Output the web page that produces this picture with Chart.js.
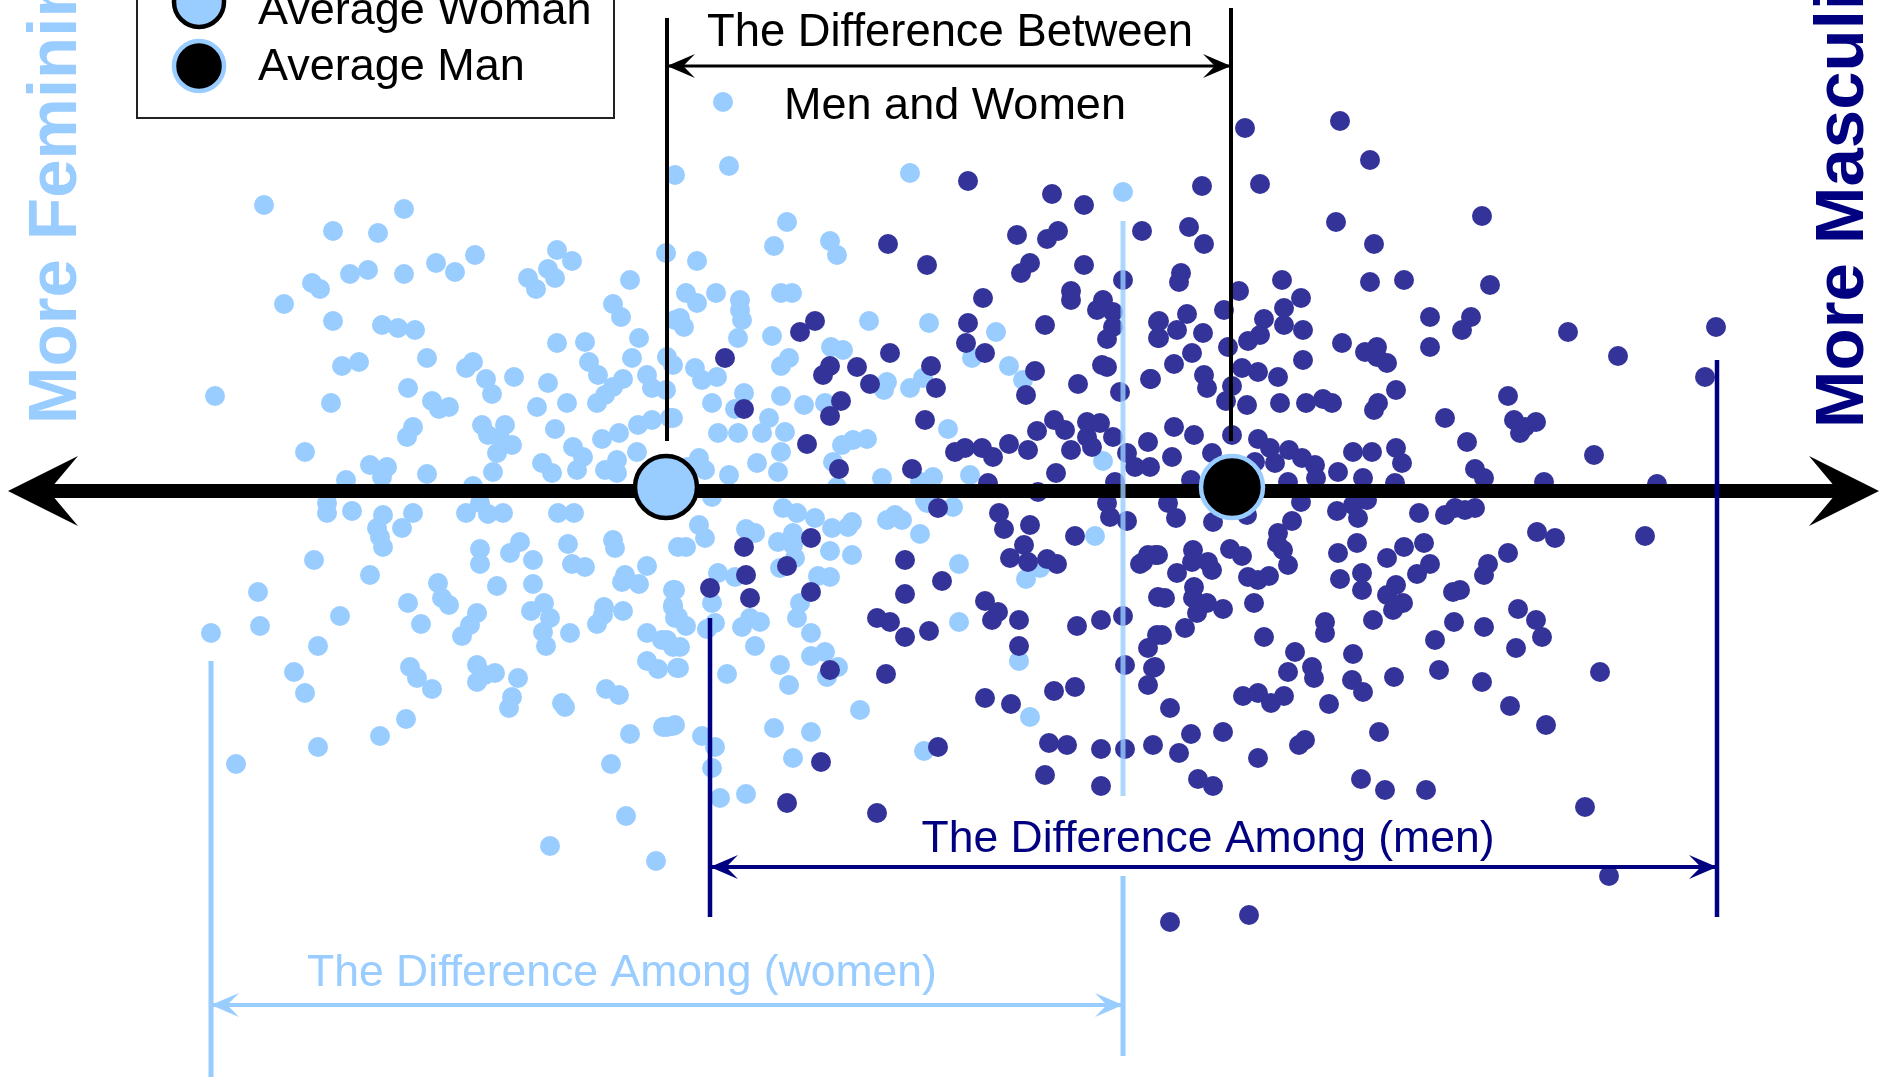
<!DOCTYPE html>
<html>
<head>
<meta charset="utf-8">
<title>The Difference Between Men and Women</title>
<script src="https://cdn.jsdelivr.net/npm/chart.js@4/dist/chart.umd.min.js"></script>
<style>
html, body { margin: 0; padding: 0; background: #fff; overflow: hidden; }
canvas { display: block; }
</style>
</head>
<body>
<canvas id="spread" width="1883" height="1081"></canvas>
<script>
// values, on a 0-1883 / 0-1081 plane
var women = [
[264,205],[404,209],[333,231],[378,233],[475,255],[436,263],[455,272],[557,250],[572,261],[350,274],[368,270],[404,274],
[312,283],[320,289],[284,304],[528,278],[536,289],[548,269],[555,278],[630,280],[666,253],[613,304],[621,317],[333,321],
[382,325],[398,328],[415,330],[557,343],[585,342],[639,338],[427,358],[359,362],[342,366],[632,358],[589,362],[598,375],
[473,362],[466,368],[486,379],[492,394],[514,377],[548,383],[647,375],[652,388],[623,379],[613,387],[605,395],[597,403],
[666,390],[215,396],[408,388],[331,403],[432,401],[439,409],[449,407],[537,407],[567,403],[413,427],[407,437],[482,425],
[505,425],[488,435],[500,438],[512,445],[497,453],[493,472],[555,429],[652,420],[638,425],[619,433],[602,439],[670,418],
[305,452],[637,452],[573,447],[583,457],[577,470],[542,463],[552,473],[370,465],[387,467],[382,477],[427,474],[346,480],
[617,460],[605,470],[617,473],[667,357],[675,320],[473,486],[712,497],[837,487],[925,500],
[327,513],[352,511],[383,515],[413,513],[402,528],[377,528],[380,537],[383,547],[327,503],[466,513],[488,514],[503,513],
[480,503],[558,513],[574,513],[613,540],[615,548],[568,544],[572,564],[585,567],[480,549],[480,564],[520,542],[510,553],
[533,560],[314,560],[370,575],[258,592],[438,583],[442,598],[449,605],[497,586],[533,584],[625,575],[622,582],[639,584],
[647,566],[408,603],[678,547],[544,603],[531,611],[550,618],[543,632],[546,646],[340,616],[260,626],[211,633],[421,624],
[477,613],[470,625],[462,636],[604,607],[623,611],[603,615],[597,624],[570,633],[647,633],[662,640],[673,647],[673,590],
[673,607],[675,618],[318,646],[294,672],[305,693],[410,667],[417,678],[432,689],[477,665],[495,673],[485,675],[477,682],
[518,678],[512,697],[509,708],[647,661],[658,669],[677,668],[606,689],[619,695],[562,703],[565,707],[406,719],[380,736],
[630,734],[667,727],[675,725],[318,747],[236,764],[611,764],[626,816],[550,846],[656,861],
[723,102],[675,175],[729,166],[910,173],[1123,192],[787,222],[774,246],[830,241],[837,255],[697,261],[686,293],[697,303],
[716,293],[781,293],[792,293],[740,300],[740,310],[742,320],[680,318],[684,327],[738,338],[772,336],[869,321],[929,323],
[996,332],[789,358],[781,366],[831,347],[843,350],[972,358],[1009,366],[887,382],[884,390],[910,388],[923,378],[1023,380],
[673,365],[695,368],[702,380],[717,377],[712,403],[744,393],[735,409],[781,396],[804,405],[825,403],[673,418],[769,418],
[762,433],[785,432],[718,433],[738,433],[781,452],[948,429],[867,439],[853,440],[842,445],[833,462],[1103,461],[699,458],
[705,470],[688,467],[757,463],[778,472],[729,475],[882,478],[933,477],[920,482],[970,475],
[783,508],[797,513],[815,518],[832,528],[848,527],[852,522],[895,515],[887,520],[902,520],[953,507],[927,503],[699,525],
[705,538],[686,547],[746,529],[755,533],[778,542],[793,533],[793,545],[830,551],[852,555],[920,534],[1095,536],[959,564],
[795,558],[780,568],[718,573],[735,577],[818,576],[830,577],[1026,579],[1040,568],[675,590],[673,605],[678,617],[686,626],
[712,603],[715,623],[707,629],[800,603],[797,618],[811,633],[750,618],[742,627],[760,622],[959,622],[755,646],[667,640],
[680,647],[679,668],[811,656],[825,652],[780,665],[727,674],[789,685],[827,677],[838,667],[1019,661],[860,710],[673,726],
[663,727],[774,728],[811,732],[702,736],[715,747],[712,768],[793,758],[924,751],[1030,717],[720,798],[746,794]
];
var men = [
[968,181],[1052,194],[1084,205],[1142,231],[1017,235],[1058,231],[1047,239],[888,244],[927,265],[1030,263],[1021,273],[1084,265],
[1123,280],[1071,291],[1071,300],[983,298],[1103,300],[1097,310],[1113,312],[1113,327],[1107,339],[1045,325],[1158,322],[1158,338],
[815,321],[800,332],[968,323],[966,343],[985,353],[890,353],[725,358],[830,366],[823,375],[857,367],[870,384],[931,366],
[936,388],[1035,371],[1026,395],[1102,365],[1107,367],[1078,384],[1150,379],[1120,392],[841,401],[830,416],[744,409],[925,420],
[1054,420],[1065,430],[1037,431],[1087,422],[1100,423],[1113,437],[1087,437],[1009,444],[1028,450],[993,457],[982,448],[965,448],
[955,452],[807,444],[1071,450],[1092,447],[1148,442],[1127,453],[1135,467],[1150,467],[839,469],[912,469],[1056,473],[1115,482],[988,483],
[1038,492],[938,508],[999,513],[1004,529],[1030,525],[1024,545],[1010,558],[1028,562],[1047,559],[1057,564],[1075,536],[1110,517],[1127,521],
[1107,503],[811,538],[744,547],[905,560],[787,566],[746,575],[942,581],[710,588],[811,592],[905,594],[750,598],[985,601],
[998,612],[992,620],[1019,620],[877,618],[890,622],[905,637],[929,631],[1077,626],[1101,620],[1123,616],[1019,646],[1148,648],
[1157,635],[1158,597],[1140,564],[1148,555],[1158,555],[1125,665],[1153,668],[1148,685],[830,670],[886,674],[1075,687],[1054,691],
[985,698],[1011,704],[938,747],[1049,743],[1067,745],[1101,749],[1125,749],[1153,745],[821,762],[1045,775],[1101,786],[787,803],[877,813],
[1245,128],[1340,121],[1370,160],[1202,186],[1260,184],[1482,216],[1336,222],[1189,227],[1204,244],[1374,244],[1181,273],[1179,282],
[1239,291],[1282,280],[1301,298],[1370,282],[1404,280],[1490,285],[1224,310],[1284,308],[1187,314],[1159,321],[1264,319],[1430,317],
[1471,317],[1462,330],[1568,332],[1177,330],[1159,338],[1203,333],[1284,325],[1303,330],[1260,335],[1248,341],[1342,343],[1377,347],
[1365,352],[1377,357],[1387,363],[1430,347],[1228,347],[1192,353],[1174,364],[1303,360],[1618,356],[1242,368],[1258,372],[1278,377],
[1204,375],[1207,388],[1151,379],[1232,386],[1396,390],[1508,396],[1323,399],[1332,403],[1226,401],[1247,405],[1280,403],[1306,403],
[1378,403],[1374,410],[1445,418],[1514,420],[1536,422],[1525,427],[1520,433],[1174,427],[1194,435],[1467,442],[1232,435],[1258,439],
[1270,448],[1289,450],[1302,458],[1315,465],[1275,463],[1172,457],[1212,453],[1255,462],[1353,452],[1372,452],[1396,448],[1402,463],
[1338,472],[1594,455],[1475,469],[1484,478],[1191,480],[1288,482],[1363,478],[1316,478],[1395,483],[1544,482],[1716,327],[1705,377],
[1657,484],[1645,536],
[1168,503],[1176,518],[1213,522],[1247,515],[1292,521],[1301,502],[1337,511],[1353,505],[1358,518],[1367,500],[1419,513],[1445,515],
[1455,508],[1465,510],[1475,508],[1537,532],[1555,538],[1278,533],[1277,543],[1283,550],[1288,565],[1357,543],[1338,553],
[1387,558],[1404,547],[1424,543],[1508,553],[1155,555],[1143,562],[1193,550],[1208,562],[1212,570],[1192,562],[1177,573],[1230,549],
[1242,556],[1430,564],[1417,574],[1488,564],[1484,575],[1362,573],[1362,590],[1340,579],[1248,577],[1258,580],[1269,576],[1396,585],
[1387,595],[1403,603],[1393,610],[1373,620],[1460,590],[1453,592],[1518,609],[1536,620],[1542,637],[1194,587],[1193,598],[1165,598],
[1254,603],[1207,603],[1223,609],[1197,613],[1185,628],[1325,622],[1325,633],[1454,622],[1484,627],[1435,640],[1516,648],[1264,637],
[1162,635],[1295,652],[1353,654],[1312,667],[1314,678],[1288,672],[1155,667],[1394,677],[1439,670],[1600,672],[1482,682],[1352,680],
[1363,692],[1243,696],[1258,693],[1271,703],[1284,696],[1329,704],[1170,708],[1510,706],[1546,725],[1379,732],[1191,734],[1223,732],
[1179,753],[1305,740],[1299,745],[1258,758],[1198,779],[1213,786],[1361,779],[1385,790],[1426,790],[1585,807],[1609,876],[1170,922],[1249,915]
];
var averageWoman = [[666,487]];
var averageMan = [[1232,487]];
var legendWoman = [[199,2]];
var legendMan = [[199,66]];

var axisLine = [[30,491],[1860,491]];
var womanDrop = [[667,18],[667,441]];
var manDrop = [[1231,8],[1231,441]];
var betweenSpan = [[667,66],[1231,66]];
var menLeft = [[710,618],[710,917]];
var menRight = [[1717,360],[1717,917]];
var menSpan = [[710,867],[1717,867]];
var womenLeft = [[211,661],[211,1077]];
var womenRightUpper = [[1123,221],[1123,796]];
var womenRightLower = [[1123,876],[1123,1056]];
var womenSpan = [[211,1005],[1123,1005]];
var legendBox = [[137,-5],[137,118],[614,118],[614,-5]];

var LIGHT = '#99ccff', DOT = '#333399', NAVY = '#000080';

var labels = [
    { text: 'The Difference Between', x: 950, y: 46, color: '#000', font: '45.4px "Liberation Sans"' },
    { text: 'Men and Women', x: 955, y: 119, color: '#000', font: '45px "Liberation Sans"' },
    { text: 'The Difference Among (men)', x: 1208, y: 852, color: NAVY, font: '44.5px "Liberation Sans"' },
    { text: 'The Difference Among (women)', x: 622, y: 986, color: LIGHT, font: '44.5px "Liberation Sans"' },
    { text: 'Average Woman', x: 258, y: 24, color: '#000', font: '45px "Liberation Sans"', align: 'left' },
    { text: 'Average Man', x: 258, y: 80, color: '#000', font: '45px "Liberation Sans"', align: 'left' }
];
var sideLabels = [
    { text: 'More Feminine', x: 76, y: 424, color: LIGHT },
    { text: 'More Masculine', x: 1863, y: 428, color: NAVY }
];
// [tip x, tip y, direction, colour, length, half height]
var arrowHeads = [
    [8, 491, 1, '#000', 70, 35],
    [1879, 491, -1, '#000', 70, 35],
    [667, 66, 1, '#000', 28, 12],
    [1231, 66, -1, '#000', 28, 12],
    [710, 867, 1, NAVY, 28, 12],
    [1717, 867, -1, NAVY, 28, 12],
    [211, 1005, 1, LIGHT, 28, 12],
    [1123, 1005, -1, LIGHT, 28, 12]
];

function pts(list) {
    return list.map(function (p) { return { x: p[0], y: p[1] }; });
}
function dots(label, list, color, order) {
    return { label: label, data: pts(list), order: order, pointRadius: 10, pointBackgroundColor: color,
        pointBorderWidth: 0, showLine: false };
}
function rule(label, list, color, width, order) {
    return { label: label, data: pts(list), order: order, showLine: true, borderColor: color, borderWidth: width,
        pointRadius: 0, borderCapStyle: 'butt', tension: 0 };
}
function bigDot(label, list, fill, edge, radius) {
    return { label: label, data: pts(list), order: 1, pointRadius: radius, pointBackgroundColor: fill,
        pointBorderColor: edge, pointBorderWidth: 4.5, showLine: false, clip: false };
}

var drawExtras = {
    id: 'drawExtras',
    afterDatasetsDraw: function (chart) {
        var c = chart.ctx, xs = chart.scales.x, ys = chart.scales.y;
        c.save();
        arrowHeads.forEach(function (a) {
            var x = xs.getPixelForValue(a[0]), y = ys.getPixelForValue(a[1]), d = a[2], len = a[4], h = a[5];
            c.fillStyle = a[3];
            c.beginPath();
            c.moveTo(x, y);
            c.lineTo(x + d * len, y - h);
            c.lineTo(x + d * len * 0.58, y);
            c.lineTo(x + d * len, y + h);
            c.closePath();
            c.fill();
        });
        labels.forEach(function (l) {
            c.font = l.font;
            c.fillStyle = l.color;
            c.textAlign = l.align || 'center';
            c.textBaseline = 'alphabetic';
            c.fillText(l.text, xs.getPixelForValue(l.x), ys.getPixelForValue(l.y));
        });
        sideLabels.forEach(function (l) {
            c.save();
            c.translate(xs.getPixelForValue(l.x), ys.getPixelForValue(l.y));
            c.rotate(-Math.PI / 2);
            c.font = 'bold 69px "Liberation Sans"';
            c.fillStyle = l.color;
            c.textAlign = 'left';
            c.textBaseline = 'alphabetic';
            c.fillText(l.text, 0, 0);
            c.restore();
        });
        c.restore();
    }
};

var ctx = document.getElementById('spread');

var spreadChart = new Chart(ctx, {
    type: 'scatter',
    data: {
        datasets: [
            dots('Women', women, LIGHT, 9),
            dots('Men', men, DOT, 8),
            rule('Axis', axisLine, '#000', 14, 7),
            rule('Woman drop', womanDrop, '#000', 4, 5),
            rule('Man drop', manDrop, '#000', 4, 5),
            rule('Between', betweenSpan, '#000', 3, 5),
            rule('Men left', menLeft, NAVY, 4.5, 4),
            rule('Men right', menRight, NAVY, 4.5, 4),
            rule('Men span', menSpan, NAVY, 4, 4),
            rule('Women left', womenLeft, LIGHT, 5, 4),
            rule('Women right', womenRightUpper, 'rgba(153,204,255,0.8)', 5, 4),
            rule('Women right lower', womenRightLower, LIGHT, 5, 4),
            rule('Women span', womenSpan, LIGHT, 4, 4),
            rule('Legend box', legendBox, '#222', 2, 6),
            bigDot('Average Woman', averageWoman, LIGHT, '#000', 31),
            bigDot('Average Man', averageMan, '#000', LIGHT, 31),
            bigDot('Legend Woman', legendWoman, LIGHT, '#000', 25),
            bigDot('Legend Man', legendMan, '#000', LIGHT, 25)
        ]
    },
    options: {
        responsive: false,
        animation: false,
        layout: { padding: 0, autoPadding: false },
        plugins: { legend: { display: false }, tooltip: { enabled: false } },
        scales: {
            x: { type: 'linear', min: 0, max: 1883, display: false },
            y: { type: 'linear', min: 0, max: 1081, reverse: true, display: false }
        }
    },
    plugins: [drawExtras]
});
</script>
</body>
</html>
